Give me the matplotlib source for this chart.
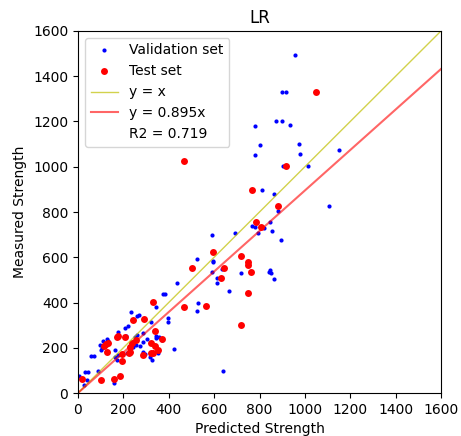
import numpy as np
import matplotlib
matplotlib.use('Agg')
import matplotlib.pyplot as plt

# validation set (predicted, measured)
val_pred = [957, 898, 916, 780, 874, 898, 936, 804, 974, 1152, 780, 977, 904, 1015, 812, 862,
            883, 1106, 845, 768, 780, 818, 854, 795, 895, 592, 692, 526, 595, 595, 846, 633,
            720, 592, 843, 849, 613, 613, 863, 667, 530, 526, 638, 376, 383, 342, 398, 398,
            234, 259, 269, 222, 207, 320, 344, 178, 212, 251, 261, 285, 303, 288, 345, 358,
            370, 273, 256, 295, 285, 317, 328, 351, 424, 215, 229, 244, 97, 104, 110, 128,
            132, 101, 163, 176, 172, 165, 57, 72, 90, 31, 43, 4, 38, 28, 160, 438]
val_meas = [1494, 1332, 1332, 1181, 1203, 1203, 1186, 1095, 1100, 1074, 1052, 1056, 1002, 1002, 899, 880,
            803, 828, 757, 740, 732, 728, 716, 706, 675, 698, 707, 592, 585, 578, 544, 548,
            532, 536, 536, 532, 507, 486, 503, 451, 399, 361, 99, 438, 438, 379, 330, 315,
            359, 340, 345, 296, 286, 315, 252, 271, 252, 249, 256, 264, 237, 227, 245, 248,
            235, 208, 212, 172, 183, 160, 146, 175, 194, 175, 186, 205, 212, 200, 230, 240,
            232, 190, 190, 170, 146, 160, 165, 165, 99, 94, 94, 76, 57, 35, 43, 485]

# test set (predicted, measured)
test_pred = [1048, 467, 915, 767, 883, 783, 808, 597, 720, 749, 749, 504, 645, 763, 629, 749,
             467, 564, 720, 332, 241, 292, 339, 178, 170, 207, 256, 239, 229, 372, 322, 339,
             322, 332, 351, 285, 229, 226, 193, 193, 134, 123, 116, 126, 19, 101, 160, 185]
test_meas = [1332, 1027, 1002, 899, 828, 757, 732, 625, 607, 578, 565, 551, 551, 536, 507, 441,
             379, 383, 299, 404, 323, 327, 274, 252, 249, 249, 234, 220, 205, 239, 222, 208,
             178, 178, 190, 168, 183, 175, 171, 141, 220, 217, 208, 180, 61, 57, 62, 75]

slope = 0.895
r2 = 0.719
lims = [0, 1600]

fig = plt.figure(figsize=(4.61, 4.36), dpi=100)
ax = fig.add_axes([78/461, 1 - 393/436, 363/461, 362/436])

ax.plot(val_pred, val_meas, 'b.', ms=6, mew=0, ls='', label='Validation set')
ax.plot(test_pred, test_meas, 'ro', ms=5, mew=0, ls='', label='Test set')
xs = np.array(lims)
ax.plot(xs, xs, color='y', alpha=0.7, lw=1, label='y = x')
ax.plot(xs, slope * xs, color='r', alpha=0.6, lw=1.5, label='y = %.3fx' % slope)
ax.plot([], [], ' ', label='R2 = %.3f' % r2)

ax.set_xlim(lims)
ax.set_ylim(lims)
ax.set_title('LR')
ax.set_xlabel('Predicted Strength')
ax.set_ylabel('Measured Strength')
ax.legend(loc='upper left')

fig.savefig('out.png', dpi=100)
